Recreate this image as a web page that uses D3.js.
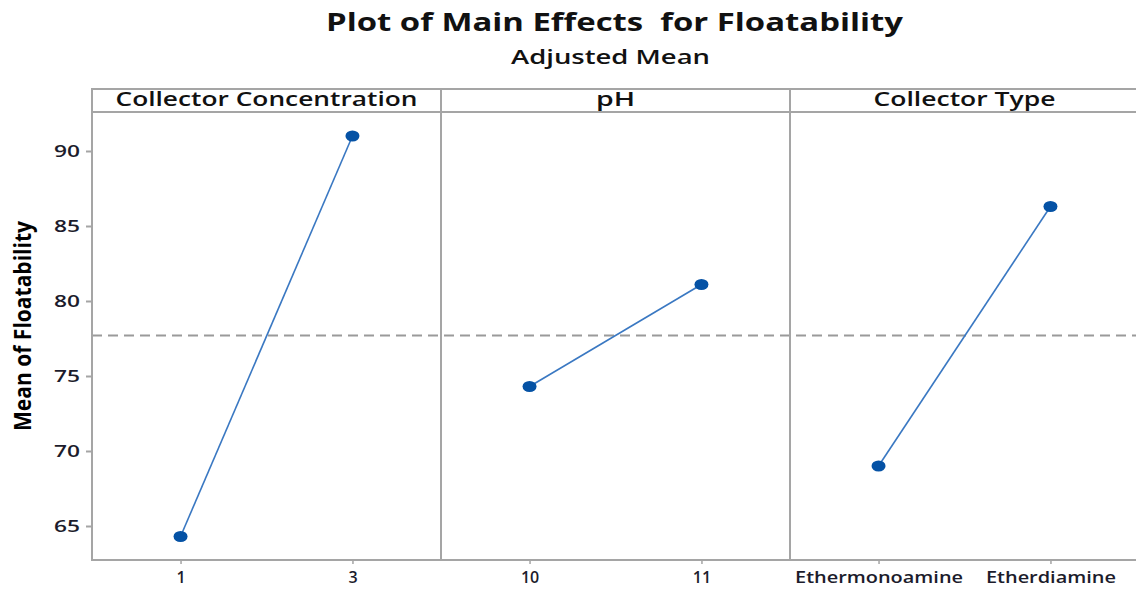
<!DOCTYPE html>
<html>
<head>
<meta charset="utf-8">
<script src="https://cdn.jsdelivr.net/npm/d3@7"></script>
<style>
  html, body { margin: 0; padding: 0; background: #fff; }
  svg { display: block; }
  text { font-family: "Open Sans", "Noto Sans", sans-serif; fill: #1c1c2c; }
</style>
</head>
<body>
<svg id="chart" width="1136" height="592"></svg>
<script>
// Factor names and their levels
const factors = ["Collector Concentration", "pH", "Collector Type"];
const levelsConcentration = ["1", "3"];
const levelsPH = ["10", "11"];
const levelsType = ["Ethermonoamine", "Etherdiamine"];

// Adjusted mean floatability at each level
const meansConcentration = [64.3, 91.0];
const meansPH = [74.3, 81.1];
const meansType = [69.0, 86.3];

// Overall mean (reference line)
const grandMean = 77.7;

// Y axis ticks
const yTicks = [65, 70, 75, 80, 85, 90];

const panels = [
  { name: factors[0], levels: levelsConcentration, means: meansConcentration },
  { name: factors[1], levels: levelsPH, means: meansPH },
  { name: factors[2], levels: levelsType, means: meansType }
];

// Layout
const frameLeft = 92, panelW = 349;
const frameTop = 89, stripH = 23, frameBottom = 560;
const plotTop = frameTop + stripH;
const frameColor = "#a5a5a5";
const lineColor = "#3a78c2";
const pointColor = "#0552a5";

const svg = d3.select("#chart");

const y = d3.scaleLinear()
  .domain([65 - 34 / 15, 90 + 39 / 15])
  .range([frameBottom, plotTop]);

const fullRight = frameLeft + panelW * panels.length;
const centerX = (frameLeft + fullRight) / 2;

// Titles
svg.append("text")
  .attr("x", centerX - 1).attr("y", 31)
  .attr("text-anchor", "middle")
  .attr("font-size", 25).attr("font-weight", 700)
  .attr("textLength", 577).attr("lengthAdjust", "spacingAndGlyphs")
  .style("white-space", "pre")
  .style("fill", "#111")
  .text("Plot of Main Effects  for Floatability");

svg.append("text")
  .attr("x", centerX - 5).attr("y", 64)
  .attr("text-anchor", "middle")
  .attr("font-size", 19).attr("font-weight", 600)
  .attr("textLength", 199).attr("lengthAdjust", "spacingAndGlyphs")
  .style("fill", "#111")
  .text("Adjusted Mean");

// Y axis label
svg.append("text")
  .attr("transform", `translate(31, ${326}) rotate(-90)`)
  .attr("text-anchor", "middle")
  .attr("font-family", "'Liberation Sans Narrow', 'Liberation Sans', Arial, sans-serif")
  .attr("font-size", 24).attr("font-weight", 700)
  .attr("textLength", 210).attr("lengthAdjust", "spacingAndGlyphs")
  .style("fill", "#000")
  .text("Mean of Floatability");

// Y axis
const yAxis = d3.axisLeft(y).tickValues(yTicks).tickSize(6).tickPadding(6);
const gy = svg.append("g").attr("transform", `translate(${frameLeft},0)`).call(yAxis);
gy.select(".domain").remove();
gy.selectAll(".tick line").attr("stroke", frameColor).attr("stroke-width", 2);
gy.selectAll(".tick text")
  .attr("font-family", "'Open Sans', sans-serif")
  .attr("font-size", 17).attr("font-weight", 600)
  .attr("dy", "0.34em")
  .attr("textLength", 26).attr("lengthAdjust", "spacingAndGlyphs")
  .style("fill", "#1c1c2c");

// Reference line across all panels
svg.append("line")
  .attr("x1", frameLeft).attr("x2", fullRight)
  .attr("y1", y(grandMean)).attr("y2", y(grandMean))
  .attr("stroke", "#9a9a9a").attr("stroke-width", 2)
  .attr("stroke-dasharray", "10,6");

const labelLengths = { "Ethermonoamine": 168, "Etherdiamine": 130 };
const headerLengths = [302, 39, 182];

panels.forEach((p, i) => {
  const x0 = frameLeft + i * panelW;
  const x = d3.scalePoint().domain(p.levels).range([x0, x0 + panelW]).padding(0.515);
  const g = svg.append("g");

  // strip header
  g.append("text")
    .attr("x", x0 + panelW / 2).attr("y", frameTop + 17)
    .attr("text-anchor", "middle")
    .attr("font-size", 19).attr("font-weight", 600)
    .attr("textLength", headerLengths[i]).attr("lengthAdjust", "spacingAndGlyphs")
    .style("fill", "#111")
    .text(p.name);

  // x axis
  const xAxis = d3.axisBottom(x).tickSize(4).tickPadding(8);
  const gx = svg.append("g").attr("transform", `translate(0,${frameBottom})`).call(xAxis);
  gx.select(".domain").remove();
  gx.selectAll(".tick line").attr("stroke", frameColor).attr("stroke-width", 1.5);
  gx.selectAll(".tick text")
    .attr("font-family", "'Open Sans', sans-serif")
    .attr("font-size", 16).attr("font-weight", 600)
    .style("fill", "#1c1c2c")
    .each(function(d) {
      if (labelLengths[d]) {
        d3.select(this).attr("textLength", labelLengths[d]).attr("lengthAdjust", "spacingAndGlyphs");
      }
    });

  // effect line and points
  const pts = p.levels.map((lv, k) => ({ lv, v: p.means[k] }));
  g.append("path")
    .datum(pts)
    .attr("fill", "none")
    .attr("stroke", lineColor).attr("stroke-width", 1.6)
    .attr("d", d3.line().x(d => x(d.lv)).y(d => y(d.v)));
  g.selectAll("ellipse").data(pts).join("ellipse")
    .attr("cx", d => x(d.lv)).attr("cy", d => y(d.v))
    .attr("rx", 7).attr("ry", 5.5)
    .attr("fill", pointColor);
});

// Frame: outer box, strip line, panel dividers
const frame = svg.append("g").attr("fill", "none").attr("stroke", frameColor).attr("stroke-width", 2);
frame.append("rect")
  .attr("x", frameLeft).attr("y", frameTop)
  .attr("width", fullRight - frameLeft).attr("height", frameBottom - frameTop);
frame.append("line")
  .attr("x1", frameLeft).attr("x2", fullRight)
  .attr("y1", plotTop).attr("y2", plotTop);
d3.range(1, panels.length).forEach(i => {
  frame.append("line")
    .attr("x1", frameLeft + i * panelW).attr("x2", frameLeft + i * panelW)
    .attr("y1", frameTop).attr("y2", frameBottom);
});
</script>
</body>
</html>
